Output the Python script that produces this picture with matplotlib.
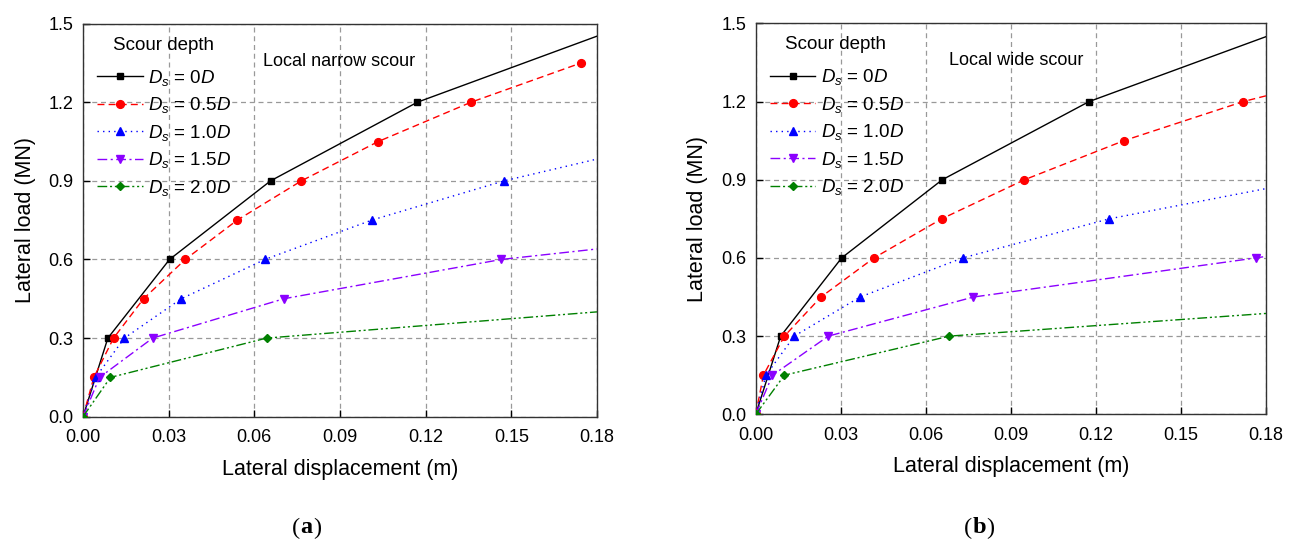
import matplotlib
matplotlib.use("Agg")
import matplotlib.pyplot as plt

# ---------------- data ----------------
labels = [r"$D_s$ = 0$D$", r"$D_s$ = 0.5$D$", r"$D_s$ = 1.0$D$",
          r"$D_s$ = 1.5$D$", r"$D_s$ = 2.0$D$"]

# Panel (a): local narrow scour  -- last point of each list is the line end
a_x_0D  = [0.0, 0.0087, 0.0303, 0.0657, 0.1171, 0.180]
a_y_0D  = [0.0, 0.30, 0.60, 0.90, 1.20, 1.452]
a_x_05D = [0.0, 0.0038, 0.0107, 0.0212, 0.0358, 0.0540, 0.0765, 0.1034, 0.1359, 0.1745]
a_y_05D = [0.0, 0.15, 0.30, 0.45, 0.60, 0.75, 0.90, 1.05, 1.20, 1.35]
a_x_10D = [0.0, 0.0044, 0.0145, 0.0344, 0.0637, 0.1011, 0.1475, 0.180]
a_y_10D = [0.0, 0.15, 0.30, 0.45, 0.60, 0.75, 0.90, 0.983]
a_x_15D = [0.0, 0.0058, 0.0244, 0.0703, 0.1465, 0.180]
a_y_15D = [0.0, 0.15, 0.30, 0.45, 0.60, 0.640]
a_x_20D = [0.0, 0.0096, 0.0643, 0.180]
a_y_20D = [0.0, 0.15, 0.30, 0.400]
a_marker_end = [5, 10, 7, 5, 3]   # number of marked points in each series

# Panel (b): local wide scour
b_x_0D  = [0.0, 0.0088, 0.0303, 0.0658, 0.1176, 0.180]
b_y_0D  = [0.0, 0.30, 0.60, 0.90, 1.20, 1.449]
b_x_05D = [0.0, 0.0027, 0.0101, 0.0230, 0.0417, 0.0656, 0.0948, 0.1299, 0.1720, 0.180]
b_y_05D = [0.0, 0.15, 0.30, 0.45, 0.60, 0.75, 0.90, 1.05, 1.20, 1.222]
b_x_10D = [0.0, 0.0036, 0.0136, 0.0368, 0.0730, 0.1247, 0.180]
b_y_10D = [0.0, 0.15, 0.30, 0.45, 0.60, 0.75, 0.866]
b_x_15D = [0.0, 0.0059, 0.0256, 0.0768, 0.1765, 0.180]
b_y_15D = [0.0, 0.15, 0.30, 0.45, 0.60, 0.606]
b_x_20D = [0.0, 0.0101, 0.0683, 0.180]
b_y_20D = [0.0, 0.15, 0.30, 0.387]
b_marker_end = [5, 9, 6, 5, 3]

x_ticks = [0.00, 0.03, 0.06, 0.09, 0.12, 0.15, 0.18]
y_ticks = [0.0, 0.3, 0.6, 0.9, 1.2, 1.5]

# ---------------- styles ----------------
colors = ["black", "#ff0000", "#0000ff", "#8b00ff", "#008000"]
markers = ["s", "o", "^", "v", "D"]
msizes = [4.6, 5.6, 6.2, 6.2, 4.0]
lstyles = ["-", (0, (5, 3)), (0, (1, 3)), (0, (7, 2.5, 1.5, 2.5)),
           (0, (7, 2, 1.5, 2, 1.5, 2))]

plt.rcParams["font.family"] = ["Liberation Sans", "DejaVu Sans"]
plt.rcParams["mathtext.fontset"] = "custom"
plt.rcParams["mathtext.it"] = "Liberation Sans:italic"
plt.rcParams["mathtext.rm"] = "Liberation Sans"

fig = plt.figure(figsize=(12.93, 5.46), dpi=100)
fig.patch.set_facecolor("white")

ax_a = fig.add_axes([0.0642, 0.2368, 0.3975, 0.7200])
ax_b = fig.add_axes([0.5845, 0.2412, 0.3946, 0.7160])

panels = [
    (ax_a, [(a_x_0D, a_y_0D), (a_x_05D, a_y_05D), (a_x_10D, a_y_10D),
            (a_x_15D, a_y_15D), (a_x_20D, a_y_20D)], a_marker_end,
     "Local narrow scour", 0.063),
    (ax_b, [(b_x_0D, b_y_0D), (b_x_05D, b_y_05D), (b_x_10D, b_y_10D),
            (b_x_15D, b_y_15D), (b_x_20D, b_y_20D)], b_marker_end,
     "Local wide scour", 0.068),
]

for ax, series, mend, note, note_x in panels:
    for i, (xs, ys) in enumerate(series):
        ax.plot(xs, ys, color=colors[i], linestyle=lstyles[i], linewidth=1.0,
                marker=markers[i], markersize=msizes[i],
                markevery=list(range(mend[i])), label=labels[i],
                clip_on=True, zorder=3 + i)
    ax.set_xlim(0, 0.18)
    ax.set_ylim(0, 1.5)
    ax.set_xticks(x_ticks)
    ax.set_yticks(y_ticks)
    ax.set_xticklabels([f"{v:.2f}" for v in x_ticks])
    ax.set_yticklabels([f"{v:.1f}" for v in y_ticks])
    ax.tick_params(direction="in", length=5, width=1, labelsize=13)
    ax.tick_params(axis="x", pad=9)
    ax.tick_params(axis="y", pad=7)
    ax.grid(True, color="#999999", linestyle=(0, (4, 3)), linewidth=0.9)
    ax.set_axisbelow(True)
    for s in ax.spines.values():
        s.set_linewidth(1.0)
        s.set_color("#333333")
    ax.set_xlabel("Lateral displacement (m)", fontsize=15.5, labelpad=9)
    ax.set_ylabel("Lateral load (MN)", fontsize=15.5, labelpad=9)
    ax.text(note_x, 1.357, note, fontsize=13, ha="left", va="center")
    ax.text(0.058, 0.945, "Scour depth", fontsize=13.5, ha="left",
            va="center", transform=ax.transAxes)
    ax.legend(loc="upper left", frameon=False, fontsize=13.5,
              handlelength=2.45, handletextpad=0.3, labelspacing=0.40,
              borderaxespad=0.0, borderpad=0.0,
              bbox_to_anchor=(0.027, 0.888))

for x, tag in [(0.232, "a"), (0.752, "b")]:
    fig.text(x, 0.033, "(", fontsize=17.5, ha="right", va="center",
             family="Liberation Serif")
    fig.text(x, 0.033, tag, fontsize=17.5, ha="left", va="center",
             family="Liberation Serif", weight="bold")
    fig.text(x + 0.0105, 0.033, ")", fontsize=17.5, ha="left", va="center",
             family="Liberation Serif")

fig.savefig("out.png", dpi=100)
